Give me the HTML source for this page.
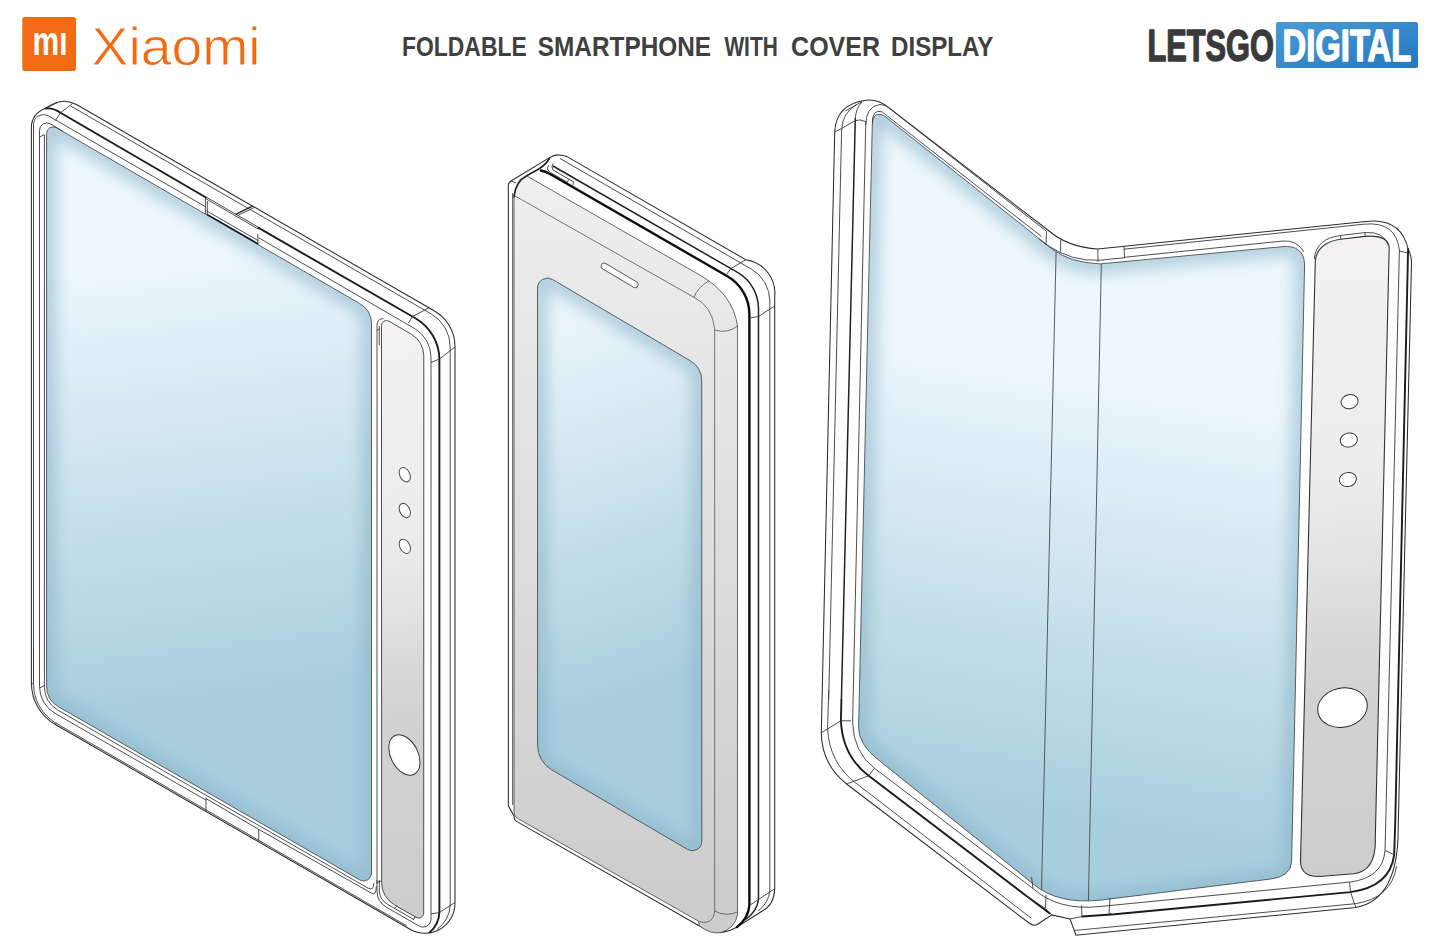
<!DOCTYPE html>
<html lang="en"><head><meta charset="utf-8"><title>Xiaomi foldable smartphone with cover display</title>
<style>html,body{margin:0;padding:0;background:#fff}body{width:1440px;height:950px;overflow:hidden}svg{display:block}</style>
</head><body>
<svg width="1440" height="950" viewBox="0 0 1440 950">
<rect width="1440" height="950" fill="#fff"/>
<defs>
<filter id="bl" x="-10%" y="-10%" width="120%" height="120%"><feGaussianBlur stdDeviation="8"/></filter>
<linearGradient id="g1" gradientUnits="userSpaceOnUse" x1="210" y1="250" x2="262" y2="684"><stop offset="0" stop-color="#edf7fd"/><stop offset="1" stop-color="#a9cfdf"/></linearGradient>
<linearGradient id="g2" gradientUnits="userSpaceOnUse" x1="620" y1="305" x2="735.3" y2="651.4"><stop offset="0" stop-color="#eaf5fb"/><stop offset="1" stop-color="#a9cfdf"/></linearGradient>
<linearGradient id="g3" gradientUnits="userSpaceOnUse" x1="960" y1="352" x2="888.8" y2="780"><stop offset="0" stop-color="#edf7fd"/><stop offset="1" stop-color="#a9cfdf"/></linearGradient>
<linearGradient id="gs1" gradientUnits="userSpaceOnUse" x1="385" y1="320" x2="420" y2="900"><stop offset="0" stop-color="#f3f1f1"/><stop offset="0.36" stop-color="#ededed"/><stop offset="0.49" stop-color="#e4e4e4"/><stop offset="0.575" stop-color="#dadada"/><stop offset="0.68" stop-color="#d2d2d2"/><stop offset="1" stop-color="#cdcdcd"/></linearGradient>
<linearGradient id="gs3" gradientUnits="userSpaceOnUse" x1="1320" y1="240" x2="1370" y2="870"><stop offset="0" stop-color="#f3f1f1"/><stop offset="0.36" stop-color="#ededed"/><stop offset="0.5" stop-color="#e4e4e4"/><stop offset="0.6" stop-color="#dadada"/><stop offset="0.72" stop-color="#d2d2d2"/><stop offset="1" stop-color="#cdcdcd"/></linearGradient>
<linearGradient id="gf2" gradientUnits="userSpaceOnUse" x1="0" y1="200" x2="0" y2="880"><stop offset="0" stop-color="#eeeeee"/><stop offset="0.5" stop-color="#dedede"/><stop offset="1" stop-color="#cdcdcd"/></linearGradient>
<linearGradient id="lg" x1="0" y1="0" x2="1" y2="1"><stop offset="0" stop-color="#4a9ad6"/><stop offset="1" stop-color="#2479bd"/></linearGradient>
</defs>
<rect x="22.3" y="17" width="53.7" height="54" rx="2.2" fill="#f26a12"/>
<text x="32.6" y="54.7" font-family="'Liberation Sans',sans-serif" font-weight="700" font-size="41" fill="#fff" textLength="35" lengthAdjust="spacingAndGlyphs">mı</text>
<text x="91.6" y="64.6" font-family="'Liberation Sans',sans-serif" font-size="53.5" fill="#f26a12" stroke="#fff" stroke-width="0.8" paint-order="fill stroke" textLength="169" lengthAdjust="spacingAndGlyphs">Xiaomi</text>
<text x="402" y="55.9" font-family="'Liberation Sans',sans-serif" font-weight="700" font-size="27.4" fill="#404040" textLength="124.7" lengthAdjust="spacingAndGlyphs">FOLDABLE</text>
<text x="537.8" y="55.9" font-family="'Liberation Sans',sans-serif" font-weight="700" font-size="27.4" fill="#404040" textLength="173.3" lengthAdjust="spacingAndGlyphs">SMARTPHONE</text>
<text x="724.4" y="55.9" font-family="'Liberation Sans',sans-serif" font-weight="700" font-size="27.4" fill="#404040" textLength="53.4" lengthAdjust="spacingAndGlyphs">WITH</text>
<text x="791.1" y="55.9" font-family="'Liberation Sans',sans-serif" font-weight="700" font-size="27.4" fill="#404040" textLength="88.9" lengthAdjust="spacingAndGlyphs">COVER</text>
<text x="891.1" y="55.9" font-family="'Liberation Sans',sans-serif" font-weight="700" font-size="27.4" fill="#404040" textLength="102.2" lengthAdjust="spacingAndGlyphs">DISPLAY</text>
<text x="1147.4" y="61.2" font-family="'Liberation Sans',sans-serif" font-weight="700" font-size="44" fill="#3a3a3c" stroke="#3a3a3c" stroke-width="1.5" stroke-linejoin="round" textLength="126.4" lengthAdjust="spacingAndGlyphs">LETSGO</text>
<rect x="1276" y="22" width="142" height="46" rx="2" fill="url(#lg)"/>
<text x="1282.6" y="61.2" font-family="'Liberation Sans',sans-serif" font-weight="700" font-size="44" fill="#fff" stroke="#fff" stroke-width="1.5" stroke-linejoin="round" textLength="128.6" lengthAdjust="spacingAndGlyphs">DIGITAL</text>
<path d="M31.4 127C31.6 116.5 38 111.5 45.3 108.3C52 104 58 101 64.2 101.2C69 101.3 73 102.6 76.9 104.8L434.5 311A41 41 0 0 1 455 346.5L455 903.3A30 30 0 0 1 410 929.3L55.4 724.5A48 48 0 0 1 31.4 682.9L31.4 127Z" fill="#fff" stroke="#2c2c2c" stroke-width="1.05"/>
<clipPath id="c1"><path d="M46.6 133.5A6.5 6.5 0 0 1 56.4 127.8L359.7 303.5A23.6 23.6 0 0 1 371.5 323.9L371.5 872.9A8 8 0 0 1 359.5 879.8L58.5 706.8A23.7 23.7 0 0 1 46.6 686.3Z"/></clipPath>
<path d="M46.6 133.5A6.5 6.5 0 0 1 56.4 127.8L359.7 303.5A23.6 23.6 0 0 1 371.5 323.9L371.5 872.9A8 8 0 0 1 359.5 879.8L58.5 706.8A23.7 23.7 0 0 1 46.6 686.3Z" fill="url(#g1)"/>
<g clip-path="url(#c1)"><path d="M46.6 133.5A6.5 6.5 0 0 1 56.4 127.8L359.7 303.5A23.6 23.6 0 0 1 371.5 323.9L371.5 872.9A8 8 0 0 1 359.5 879.8L58.5 706.8A23.7 23.7 0 0 1 46.6 686.3Z" fill="none" stroke="#86b2c6" stroke-opacity="0.62" stroke-width="18" filter="url(#bl)"/></g>
<path d="M46.6 133.5A6.5 6.5 0 0 1 56.4 127.8L359.7 303.5A23.6 23.6 0 0 1 371.5 323.9L371.5 872.9A8 8 0 0 1 359.5 879.8L58.5 706.8A23.7 23.7 0 0 1 46.6 686.3Z" fill="none" stroke="#4a4f52" stroke-width="0.9"/>
<path d="M70.5 105.9L431.2 313.9A38 38 0 0 1 450.2 346.8L450.2 905Q449.5 920 437 929.5" stroke="#3a3a3a" stroke-width="0.9" fill="none" />
<path d="M33.5 682.2L33.5 124.6A10 10 0 0 1 48.5 115.9L205.4 206.7" stroke="#3a3a3a" stroke-width="0.9" fill="none" />
<path d="M258.6 237.7L414.6 328.6A33 33 0 0 1 431 357.1L431 919.1A8 8 0 0 1 419 926L386.4 907.2A18.9 18.9 0 0 1 377 890.9L377 880" stroke="#3a3a3a" stroke-width="0.9" fill="none" />
<path d="M33.5 650L33.5 683.7A46 46 0 0 0 56.5 723.5L407 926" stroke="#3a3a3a" stroke-width="0.9" fill="none" />
<path d="M39.5 400L39.5 130.3A7.4 7.4 0 0 1 50.8 124L62 130.8" stroke="#3a3a3a" stroke-width="0.9" fill="none" />
<path d="M39.5 400L39.5 686.5A31 31 0 0 0 55.1 713.4L206 800.1" stroke="#3a3a3a" stroke-width="0.9" fill="none" />
<path d="M258.8 829.4L371 892.9Q376.5 896.3 376.3 886.3" stroke="#3a3a3a" stroke-width="0.9" fill="none" />
<path d="M44.4 135L44.4 687.3A26 26 0 0 0 57.4 709.8L206 795.2" stroke="#3a3a3a" stroke-width="0.9" fill="none" />
<path d="M206 795.2L368 888.1Q374 891.1 373.8 883.1" stroke="#3a3a3a" stroke-width="0.9" fill="none" />
<path d="M39.5 137L44.4 134.6 M39.5 688L44.4 685.5 M31.4 683.5L33.5 684 M55.6 724.2L56.5 722.5" stroke="#3a3a3a" stroke-width="0.9" fill="none" />
<path d="M205.4 197.2 L205.4 214.1 M207.3 201 L207.3 214.2 M257.8 233.9 L257.8 244.5" stroke="#3a3a3a" stroke-width="0.9" fill="none" />
<path d="M235.6 214.3L252.4 206.2" stroke="#222" stroke-width="1.3" fill="none" />
<path d="M237.6 215.5L254.4 207.4" stroke="#3a3a3a" stroke-width="0.9" fill="none" />
<path d="M206.5 210.8 L258.6 240.9" stroke="#3a3a3a" stroke-width="0.9" fill="none" />
<path d="M207 214.3 L258 243.8" stroke="#111" stroke-width="1.4" fill="none" />
<path d="M206 797.6 L206 811 M258.8 829.4 L258.8 841.7" stroke="#3a3a3a" stroke-width="0.9" fill="none" />
<path d="M206 798.6 L258.8 829.4" stroke="#3a3a3a" stroke-width="0.9" fill="none" />
<path d="M381.5 325.6A5 5 0 0 1 389 321.2L411.3 334.2A25 25 0 0 1 423.8 355.8L423.7 913.1A5 5 0 0 1 416.2 917.4L394.6 905A26 26 0 0 1 381.6 882.5Z" fill="url(#gs1)" stroke="#444" stroke-width="0.95"/>
<path d="M377 884L377 325Q377.3 318.5 383.5 318.6 M379.3 345L379.3 326 M377 331L379.3 328.5" stroke="#3a3a3a" stroke-width="0.9" fill="none" />
<path d="M379.3 880L379.3 889.8A17 17 0 0 0 387.8 904.5L414 919.6" stroke="#3a3a3a" stroke-width="0.9" fill="none" />
<path d="M377 882.5L381.6 881 M394.6 908.2L397.2 905.6 M413 919.8L415.5 916.6" stroke="#3a3a3a" stroke-width="0.9" fill="none" />
<path d="M45.3 108.6Q53 107.3 60.5 112.8L206 197.5" stroke="#1c1c1c" stroke-width="1.9" fill="none" stroke-linecap="round" />
<path d="M206 197 L258.6 227.4 M206 198.8 L258.6 229.2" stroke="#3a3a3a" stroke-width="0.9" fill="none" />
<path d="M258.6 227.9L415.4 318.2A48 48 0 0 1 439.4 359.8L439.4 912Q439.2 924 429.5 932.6" stroke="#1c1c1c" stroke-width="1.9" fill="none" stroke-linecap="round" />
<path d="M58 102.3L45.3 108.6 M72.5 103.5L60.5 112.8L55.5 120.5" stroke="#3a3a3a" stroke-width="0.9" fill="none" />
<path d="M429.5 307.6L412.5 316.5L408.5 323 M455 347L439.4 359L431 362.5" stroke="#3a3a3a" stroke-width="0.9" fill="none" />
<path d="M454.7 902.6L439.4 912.5L431 914" stroke="#3a3a3a" stroke-width="0.9" fill="none" />
<ellipse cx="404.8" cy="474.7" rx="5" ry="7.6" transform="rotate(-27 404.8 474.7)" fill="#fff" stroke="#444" stroke-width="0.95"/>
<ellipse cx="404.8" cy="510.5" rx="5" ry="7.6" transform="rotate(-27 404.8 510.5)" fill="#fff" stroke="#444" stroke-width="0.95"/>
<ellipse cx="404.8" cy="546.3" rx="5" ry="7.6" transform="rotate(-27 404.8 546.3)" fill="#fff" stroke="#444" stroke-width="0.95"/>
<ellipse cx="404.4" cy="755" rx="13.6" ry="21.6" transform="rotate(-27 404.4 755)" fill="#fff" stroke="#333" stroke-width="0.95"/>
<path d="M508.3 805.6L508.3 185.5Q508.3 182.6 511 181L549.5 157.6Q554 154.6 559 154.9Q563 155.1 566.6 156.4L745.8 259.7A34 34 0 0 1 774.7 297L774.7 888.7Q774 905 762.7 910.7L737 927Q722 936 707.5 930L699 925.7L517 821.6Q514 820 514 816L508.3 805.6Z" fill="#fff" stroke="#2c2c2c" stroke-width="1.05"/>
<path d="M514 194.7Q516 181 526.6 175.8L700 275.2Q733 294 737.5 326L737.5 915Q735 928 721 932.5Q711 934.5 699.5 926L698.5 921.2L518 818.7 Q514 816.5 514 813Z" fill="url(#gf2)" stroke="#444" stroke-width="0.8"/>
<path d="M514 195.4L694 297.3Q712.5 306.5 714.7 329L714.7 911Q714 921 705.9 922.3Q701 922.6 698.5 921.2" stroke="#555" stroke-width="0.8" fill="none" />
<path d="M709.2 280.5Q697 288 694 297.5 M737.5 326Q727 334 714.7 330" stroke="#555" stroke-width="0.8" fill="none" />
<path d="M714.7 911Q726 917 737.5 912" stroke="#555" stroke-width="0.8" fill="none" />
<clipPath id="c2"><path d="M537.5 288.1A10 10 0 0 1 552.6 279.5L690.2 360.7A23.4 23.4 0 0 1 701.7 380.9L701.8 841.2A9.5 9.5 0 0 1 687.5 849.4L551.4 769.6A28 28 0 0 1 537.6 745.5Z"/></clipPath>
<path d="M537.5 288.1A10 10 0 0 1 552.6 279.5L690.2 360.7A23.4 23.4 0 0 1 701.7 380.9L701.8 841.2A9.5 9.5 0 0 1 687.5 849.4L551.4 769.6A28 28 0 0 1 537.6 745.5Z" fill="url(#g2)"/>
<g clip-path="url(#c2)"><path d="M537.5 288.1A10 10 0 0 1 552.6 279.5L690.2 360.7A23.4 23.4 0 0 1 701.7 380.9L701.8 841.2A9.5 9.5 0 0 1 687.5 849.4L551.4 769.6A28 28 0 0 1 537.6 745.5Z" fill="none" stroke="#86b2c6" stroke-opacity="0.62" stroke-width="18" filter="url(#bl)"/></g>
<path d="M537.5 288.1A10 10 0 0 1 552.6 279.5L690.2 360.7A23.4 23.4 0 0 1 701.7 380.9L701.8 841.2A9.5 9.5 0 0 1 687.5 849.4L551.4 769.6A28 28 0 0 1 537.6 745.5Z" fill="none" stroke="#4a4f52" stroke-width="0.9"/>
<path d="M604.3 266.2L635 284.6" stroke="#555" stroke-width="7" stroke-linecap="round" fill="none"/>
<path d="M604.3 266.2L635 284.6" stroke="#fff" stroke-width="5.2" stroke-linecap="round" fill="none"/>
<path d="M512.7 805L512.7 193" stroke="#3a3a3a" stroke-width="0.9" fill="none" />
<path d="M541 170.5Q546 171.5 551 174.5L727.4 276.2A44 44 0 0 1 749.4 314.3L749.4 905Q748.5 918 737 927" stroke="#0c0c0c" stroke-width="2.4" fill="none" stroke-linecap="round" />
<path d="M553 166L737.5 272.4A42 42 0 0 1 758.5 308.8L758.5 899Q757.5 911 745 920" stroke="#222" stroke-width="1.5" fill="none" />
<path d="M560 158.5L751.3 269A37 37 0 0 1 769.8 301.1L769.8 890Q769 903 758 911" stroke="#3a3a3a" stroke-width="0.9" fill="none" />
<path d="M548.5 165.5Q546 170 550.5 172.5L567.5 182.5L568.5 179L553 170Q551 167 553 163.5 M568.5 179L573.5 181.8L572.8 185.5" stroke="#3a3a3a" stroke-width="0.9" fill="none" />
<path d="M511 181L516 183" stroke="#3a3a3a" stroke-width="0.9" fill="none" />
<path d="M514 197Q515.5 181.5 526.6 175.8L537 170Q545.5 165.5 549.7 158" stroke="#222" stroke-width="1.6" fill="none" stroke-linecap="round" />
<path d="M745.8 259.7L731 268.5L726.5 274.5 M774.7 306L758.5 316.5L750.2 318 M774.7 888.7L758.5 899.5L750.2 905" stroke="#3a3a3a" stroke-width="0.9" fill="none" />
<path d="M834.7 132Q836 104 866 100.2Q878 99 888.4 107.4L1047.8 230Q1068 247.5 1097.8 248.9L1365.8 221.5Q1401 217.5 1408.1 249Q1411.3 255 1411.5 262L1398.2 828Q1398.5 900 1355.8 907.4L1076 935.3L1070 919L1051.8 914.9L1038 924Q1034 927 1029 923L846.6 784Q821.5 764 821.3 732.8Z" fill="#fff" stroke="#2c2c2c" stroke-width="1.05"/>
<clipPath id="c3"><path d="M872.3 124Q872.8 112.5 881 114.5Q884 115.5 887 118L1053 249.6Q1070 262.5 1100 263.9L1283 246.6Q1303.5 245 1304.6 264L1291.6 862Q1290.5 876.5 1270.6 879L1100 900.2Q1058 904.5 1034 884.6L878 759.6Q858.3 744 858.6 727Z"/></clipPath>
<path d="M872.3 124Q872.8 112.5 881 114.5Q884 115.5 887 118L1053 249.6Q1070 262.5 1100 263.9L1283 246.6Q1303.5 245 1304.6 264L1291.6 862Q1290.5 876.5 1270.6 879L1100 900.2Q1058 904.5 1034 884.6L878 759.6Q858.3 744 858.6 727Z" fill="url(#g3)"/>
<g clip-path="url(#c3)"><path d="M872.3 124Q872.8 112.5 881 114.5Q884 115.5 887 118L1053 249.6Q1070 262.5 1100 263.9L1283 246.6Q1303.5 245 1304.6 264L1291.6 862Q1290.5 876.5 1270.6 879L1100 900.2Q1058 904.5 1034 884.6L878 759.6Q858.3 744 858.6 727Z" fill="none" stroke="#86b2c6" stroke-opacity="0.62" stroke-width="18" filter="url(#bl)"/></g>
<path d="M872.3 124Q872.8 112.5 881 114.5Q884 115.5 887 118L1053 249.6Q1070 262.5 1100 263.9L1283 246.6Q1303.5 245 1304.6 264L1291.6 862Q1290.5 876.5 1270.6 879L1100 900.2Q1058 904.5 1034 884.6L878 759.6Q858.3 744 858.6 727Z" fill="none" stroke="#4a4f52" stroke-width="0.9"/>
<path d="M1056.1 252L1041.5 890 M1101.3 264L1088.4 901" stroke="#4a4a4a" stroke-width="0.9" fill="none" />
<path d="M1315.3 260.6Q1317.5 242.5 1340.6 239.2L1364.9 236.4Q1387 234.5 1389.2 247L1375.3 838Q1376.5 871 1353.7 873.7L1322.1 876.3Q1300.5 878 1300.5 861Z" fill="url(#gs3)" stroke="#333" stroke-width="1.1"/>
<path d="M1314.3 259Q1316 238.5 1340.6 235.5L1364.9 232.6Q1384 231 1388.9 246 M1340.6 235.5L1340.9 239.2 M1364.9 232.6L1365.2 236.4" stroke="#3a3a3a" stroke-width="0.9" fill="none" />
<ellipse cx="1349.6" cy="401.6" rx="8.6" ry="7" transform="rotate(-12 1349.6 401.6)" fill="#fff" stroke="#333" stroke-width="0.95"/>
<ellipse cx="1348.8" cy="440" rx="8.6" ry="7" transform="rotate(-12 1348.8 440)" fill="#fff" stroke="#333" stroke-width="0.95"/>
<ellipse cx="1347.9" cy="479.5" rx="8.6" ry="7" transform="rotate(-12 1347.9 479.5)" fill="#fff" stroke="#333" stroke-width="0.95"/>
<ellipse cx="1342.5" cy="707.6" rx="25" ry="19.6" transform="rotate(-12 1342.5 707.6)" fill="#fff" stroke="#222" stroke-width="0.95"/>
<path d="M841.6 130L828.7 700 M865.8 121.6L852.6 722.7" stroke="#3a3a3a" stroke-width="0.9" fill="none" />
<path d="M855.3 118L841.4 700" stroke="#222" stroke-width="1.5" fill="none" />
<path d="M845.3 111L862.1 101.6 M834.7 132L841.6 128.5L855.3 120.5Q860 119 865.8 121.6 M841.6 130Q842.3 113 856.5 104.5 M855.3 119Q855.8 108 862.1 101.8" stroke="#3a3a3a" stroke-width="0.9" fill="none" />
<path d="M865.8 125Q866 106 880 104.5Q886 104.5 890 108.8L1046.5 231.3" stroke="#3a3a3a" stroke-width="0.9" fill="none" />
<path d="M872.3 124Q872 108.5 882 111.8L1041.5 236.5" stroke="#3a3a3a" stroke-width="0.9" fill="none" />
<path d="M1038.9 238.9L1046 244.5L1046.5 231.3" stroke="#3a3a3a" stroke-width="0.9" fill="none" />
<path d="M1046 244.5Q1072 262 1100 260.2L1125 257.7 M1060.8 239.5L1060.5 252.5 M1097.8 248.9L1098 262 M1124 246.6L1124.5 258" stroke="#3a3a3a" stroke-width="0.9" fill="none" />
<path d="M1124 249.2L1364.9 224.1Q1396 221.5 1399.4 250L1385.8 820L1385 850.5Q1383 878 1349.5 882.1L1110 905.5" stroke="#3a3a3a" stroke-width="0.9" fill="none" />
<path d="M1124.5 257.3L1283 241Q1297 240 1304 252" stroke="#3a3a3a" stroke-width="0.9" fill="none" />
<path d="M1408.1 249L1395.3 820L1394.2 854.7Q1390 887 1350.5 892.1L1114.5 914.2L1082 916.5" stroke="#1c1c1c" stroke-width="1.9" fill="none" stroke-linecap="round" />
<path d="M1399.4 251L1408.1 253 M1385 850.5L1394.2 854.7 M1349.5 882.1L1350.5 892.1L1355.8 907.4" stroke="#3a3a3a" stroke-width="0.9" fill="none" />
<path d="M1074 930.5L1355.3 903.7Q1392 898 1396.5 866" stroke="#3a3a3a" stroke-width="0.9" fill="none" />
<path d="M828.7 690L827.6 729Q829.5 763 855.4 782.7L1031 918" stroke="#3a3a3a" stroke-width="0.9" fill="none" />
<path d="M841.4 700L840.9 720.8Q842.5 756 868.7 775.8L1024.5 894.5L1049.5 913.2" stroke="#1c1c1c" stroke-width="1.9" fill="none" stroke-linecap="round" />
<path d="M852.6 722.7Q853.5 752 874.4 768.2L1033 888.5L1031.5 877" stroke="#3a3a3a" stroke-width="0.9" fill="none" />
<path d="M821.3 732.8L840.9 720.8L851 720.8 M846.6 784L868.7 775.8L874.4 768.2" stroke="#3a3a3a" stroke-width="0.9" fill="none" />
<path d="M1024.5 894.5L1046 909L1051.8 914.9 M1033 888.5Q1058 911 1100 906.5L1110 905.5 M1046 895L1045.5 908 M1081.5 905.5L1082 916" stroke="#3a3a3a" stroke-width="0.9" fill="none" />
<path d="M1110 897.8L1109 913.5L1114.5 914.5 M1070 919L1082 916.5" stroke="#3a3a3a" stroke-width="0.9" fill="none" />
</svg>
</body></html>
